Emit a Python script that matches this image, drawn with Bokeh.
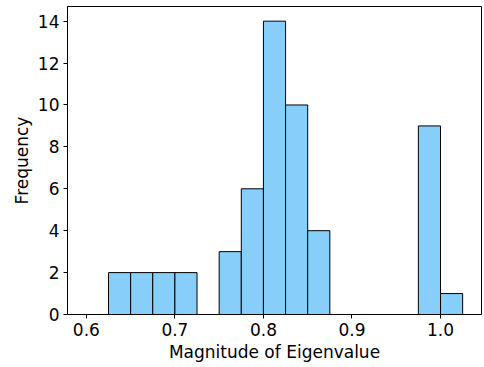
from bokeh.plotting import figure
from bokeh.models import Range1d, FixedTicker, NumeralTickFormatter
from bokeh.embed import file_html
from bokeh.resources import INLINE

# histogram data (bin edges and counts)
bin_edges = [0.600, 0.625, 0.650, 0.675, 0.700, 0.725, 0.750, 0.775, 0.800,
             0.825, 0.850, 0.875, 0.900, 0.925, 0.950, 0.975, 1.000, 1.025]
counts = [0, 2, 2, 2, 2, 0, 3, 6, 14, 10, 4, 0, 0, 0, 0, 9, 1]
x_ticks = [0.6, 0.7, 0.8, 0.9, 1.0]
y_ticks = [0, 2, 4, 6, 8, 10, 12, 14]

p = figure(frame_width=414, frame_height=308, output_backend="svg",
           toolbar_location=None,
           x_range=Range1d(0.5787, 1.0463), y_range=Range1d(0, 14.7),
           min_border_left=67, min_border_right=2, min_border_top=6,
           min_border_bottom=48)

p.quad(left=bin_edges[:-1], right=bin_edges[1:], bottom=0, top=counts,
       fill_color="#87CEFA", line_color="black", line_width=1)

p.xgrid.visible = False
p.ygrid.visible = False
p.outline_line_color = "black"
p.outline_line_width = 1
p.outline_line_alpha = 1

p.xaxis.ticker = FixedTicker(ticks=x_ticks)
p.yaxis.ticker = FixedTicker(ticks=y_ticks)
p.xaxis.formatter = NumeralTickFormatter(format="0.0")
p.xaxis.axis_label = "Magnitude of Eigenvalue"
p.yaxis.axis_label = "Frequency"

for ax in (p.xaxis[0], p.yaxis[0]):
    ax.axis_line_color = "black"
    ax.major_tick_line_color = "black"
    ax.minor_tick_line_color = None
    ax.major_tick_out = 4
    ax.major_tick_in = 0
    ax.major_label_text_font = "DejaVu Sans"
    ax.major_label_text_font_size = "17px"
    ax.major_label_text_color = "black"
    ax.axis_label_text_font = "DejaVu Sans"
    ax.axis_label_text_font_size = "17px"
    ax.axis_label_text_font_style = "normal"
    ax.axis_label_text_color = "black"
    ax.major_label_standoff = 4
    ax.axis_label_standoff = 3

open("out.html", "w").write(file_html(p, INLINE))
